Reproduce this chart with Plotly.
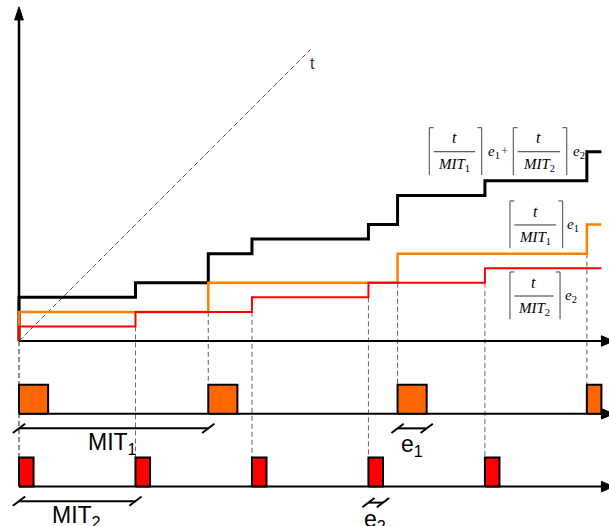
import plotly.graph_objects as go

# ---------------- data ----------------
orange_events = [0, 13, 26, 39]      # arrivals of task 1 (MIT1 = 13)
red_events = [0, 8, 16, 24, 32]      # arrivals of task 2 (MIT2 = 8)
e1 = 2                               # execution time of task 1
e2 = 1                               # execution time of task 2
t_end = 40                           # end of time axis
t_line = [0, 20]                     # the dashed "t" reference line

# ---------------- helpers ----------------
U = 14.56
X0, Y0 = 19, 341
W, H = 609, 526
xr = [-X0 / U, (W - X0) / U]
yr = [(Y0 - H) / U, Y0 / U]

ORANGE_LINE = "#FF8000"
ORANGE_FILL = "#FF6600"
RED = "#FF0000"
GREY = "#666666"

fig = go.Figure()


def line(xs, ys, color="black", width=2, dash=None, shape="linear"):
    fig.add_trace(go.Scatter(x=xs, y=ys, mode="lines", hoverinfo="skip",
                             line=dict(color=color, width=width, dash=dash, shape=shape),
                             showlegend=False))


def poly(xs, ys, fill, lc="black", lw=2):
    fig.add_trace(go.Scatter(x=xs, y=ys, mode="lines", fill="toself", fillcolor=fill,
                             hoverinfo="skip", line=dict(color=lc, width=lw),
                             showlegend=False))


def staircase(events, e):
    xs, ys, lvl = [0], [0], 0
    for t in events:
        lvl += e
        xs.append(t)
        ys.append(lvl)
    xs.append(t_end)
    ys.append(lvl)
    return xs, ys


def level_before(events, e, t):
    return sum(1 for s in events if s < t) * e


# ---------- dashed guide lines (under everything) ----------
dx, dy = [], []
for t in orange_events:
    top = level_before(orange_events, e1, t)
    dx += [t, t, None]
    dy += [top, -3 if t else -8, None]
for t in red_events:
    top = level_before(red_events, e2, t)
    dx += [t, t, None]
    dy += [top, -8, None]
line(dx, dy, color=GREY, width=1, dash="5px,3px")

# the t line
line(t_line, t_line, color="#555555", width=1, dash="5px,3px")

# ---------- axes ----------
line([0, 0], [0, 22.1], width=2.5)
poly([-0.3, 0.3, 0, -0.3], [22.05, 22.05, 22.95, 22.05], "black", lw=1)
for yb in [0, -5, -10]:
    line([0, t_end], [yb, yb], width=2)
    poly([t_end, t_end, t_end + 0.85, t_end], [yb + 0.36, yb - 0.36, yb, yb + 0.36], "black", lw=1)

# ---------- pulses ----------
for t in orange_events:
    x1 = min(t + e1, t_end)
    poly([t, x1, x1, t, t], [-5, -5, -3, -3, -5], ORANGE_FILL)
for t in red_events:
    x1 = min(t + e2, t_end)
    poly([t, x1, x1, t, t], [-10, -10, -8, -8, -10], RED)

# ---------- staircases ----------
all_ev = sorted(set(orange_events + red_events))
bx, by, lvl = [0], [0], 0
for t in all_ev:
    lvl += (e1 if t in orange_events else 0) + (e2 if t in red_events else 0)
    bx.append(t)
    by.append(lvl)
bx.append(t_end)
by.append(lvl)
line(bx, by, color="black", width=3, shape="hv")
ox, oy = staircase(orange_events, e1)
line(ox, oy, color=ORANGE_LINE, width=2.5, shape="hv")
rx, ry = staircase(red_events, e2)
line(rx, ry, color=RED, width=2, shape="hv")

# ---------- dimension arrows ----------
def dim(xa, xb, y):
    line([xa, xb], [y, y], width=2)
    sx, sy = [], []
    for xx in (xa, xb):
        sx += [xx - 0.42, xx + 0.42, None]
        sy += [y - 0.32, y + 0.32, None]
    line(sx, sy, width=2)


dim(0, orange_events[1], -6)
dim(0, red_events[1], -11)
dim(orange_events[2], orange_events[2] + e1, -6)
dim(red_events[3], red_events[3] + e2, -11.1)

ann = []


def text(x, y, s, size, xanchor="center", family="Liberation Sans", color="black"):
    ann.append(dict(x=x, y=y, text=s, showarrow=False, xanchor=xanchor, yanchor="middle",
                    font=dict(family=family, size=size, color=color)))


text(6.4, -7.05, "MIT<sub>1</sub>", 23)
text(3.95, -12.05, "MIT<sub>2</sub>", 23)
text(27.0, -7.2, "e<sub>1</sub>", 23)
text(24.45, -12.3, "e<sub>2</sub>", 23)
text(20.15, 19.05, "t", 16, color="#333333")

# ---------- formula labels ----------
SERIF = "Liberation Serif"


def ceil_frac(xl, xr_, yline, sub):
    bx_, by_ = [], []
    for xx, tick in ((xl, 0.3), (xr_, -0.3)):
        bx_ += [xx + tick, xx, xx, None]
        by_ += [yline + 1.65, yline + 1.65, yline - 1.6, None]
    line(bx_, by_, color="#444444", width=1)
    line([xl + 0.3, xr_ - 0.45], [yline, yline], color="#333333", width=1)
    xc = (xl + 0.3 + xr_ - 0.45) / 2
    text(xc, yline + 0.95, "<i>t</i>", 16, family=SERIF)
    text(xc, yline - 0.9, "<i>MIT</i><sub>%s</sub>" % sub, 15, family=SERIF)


ceil_frac(28.18, 31.78, 13.0, "1")
text(32.05, 13.0, "<i>e</i><sub>1</sub>", 15, xanchor="left", family=SERIF)
text(33.35, 13.05, "+", 13, family=SERIF, color="#444444")
ceil_frac(33.95, 37.62, 13.0, "2")
text(37.9, 13.0, "<i>e</i><sub>2</sub>", 15, xanchor="left", family=SERIF)

ceil_frac(33.72, 37.34, 7.97, "1")
text(37.5, 7.97, "<i>e</i><sub>1</sub>", 15, xanchor="left", family=SERIF)

ceil_frac(33.72, 37.16, 3.09, "2")
text(37.36, 3.12, "<i>e</i><sub>2</sub>", 15, xanchor="left", family=SERIF)

fig.update_layout(
    width=W, height=H, margin=dict(l=0, r=0, t=0, b=0),
    paper_bgcolor="white", plot_bgcolor="white",
    xaxis=dict(range=xr, visible=False, fixedrange=True),
    yaxis=dict(range=yr, visible=False, fixedrange=True),
    annotations=ann, showlegend=False,
)
fig.write_html("out.html", config={"displayModeBar": False},
               post_script="document.body.style.margin='0';document.body.style.overflow='hidden';")
